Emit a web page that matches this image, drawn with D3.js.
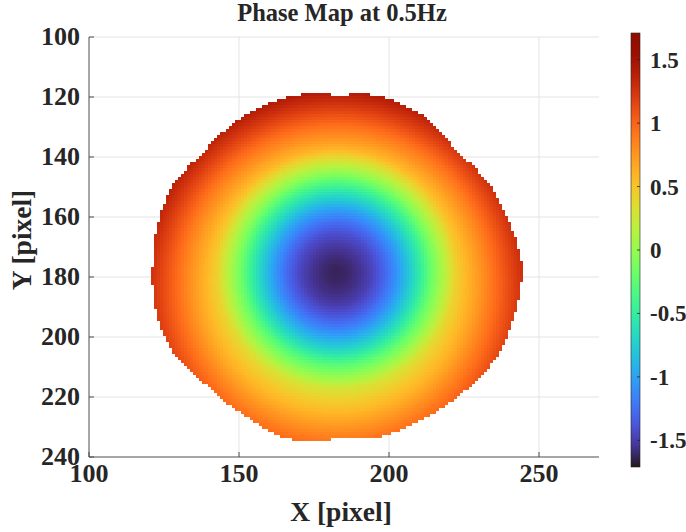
<!DOCTYPE html>
<html>
<head>
<meta charset="utf-8">
<script src="https://cdn.jsdelivr.net/npm/d3@7"></script>
<style>
  body { margin: 0; background: #fff; }
  svg text { font-family: "Liberation Serif", "Times New Roman", serif; font-weight: bold; fill: #262626; }
</style>
</head>
<body>
<div id="chart"></div>
<script>
// ticks
const xTicks = [100, 150, 200, 250];
const yTicks = [100, 120, 140, 160, 180, 200, 220, 240];
const cbTicks = [-1.5, -1, -0.5, 0, 0.5, 1, 1.5];
const phaseRange = [-1.71, 1.71];

// outline of the illuminated spot (angle in deg, counter-clockwise, radius in pixels)
const ringCenter = [182.8, 176.5];
const edgeAngles = [0, 16, 28, 44, 59, 76, 90, 104, 123, 140, 154, 170, 180, 196, 208, 222, 240, 252, 270, 282, 299, 318, 332, 344, 360];
const edgeRadii = [61.5, 58.8, 57.6, 55.2, 57.8, 58.9, 57.2, 59.1, 59.2, 58.9, 61.5, 61.8, 61.8, 62.6, 61.8, 58.8, 58.3, 60.0, 57.2, 58.4, 58.0, 59.3, 61.2, 61.0, 61.5];

// phase read along a radius from the darkest point
const phaseCenter = [182.3, 177.2];
const profileRadius = [0, 4, 8, 12, 16, 20, 24, 28, 32, 36, 40, 44, 48, 52, 56, 60, 64];
const profilePhase = [-1.64, -1.61, -1.55, -1.46, -1.3, -1.08, -0.8, -0.5, -0.15, 0.15, 0.45, 0.62, 0.77, 0.93, 1.08, 1.22, 1.34];
// top of the spot reads higher than the bottom (phase per pixel, upwards)
const phaseTilt = 0.0038;

const W = 686, H = 532;
const mLeft = 89, mRight = 599, mTop = 37, mBottom = 457;

const svg = d3.select("#chart").append("svg")
    .attr("width", W)
    .attr("height", H);

const x = d3.scaleLinear().domain([100, 270]).range([mLeft, mRight]);
const y = d3.scaleLinear().domain([100, 240]).range([mTop, mBottom]);
const color = d3.scaleSequential(d3.interpolateTurbo).domain(phaseRange).clamp(true);
const edge = d3.scaleLinear().domain(edgeAngles).range(edgeRadii);
const phase = d3.scaleLinear().domain(profileRadius).range(profilePhase).clamp(true);

// grid
const grid = svg.append("g").attr("stroke", "#e3e3e3").attr("stroke-width", 1);
grid.selectAll("line.gx").data(xTicks.filter(d => d > 100)).enter().append("line")
    .attr("x1", d => x(d)).attr("x2", d => x(d))
    .attr("y1", mTop).attr("y2", mBottom);
grid.selectAll("line.gy").data(yTicks.filter(d => d < 240)).enter().append("line")
    .attr("x1", mLeft).attr("x2", mRight)
    .attr("y1", d => y(d)).attr("y2", d => y(d));

// cells inside the spot
let cells = [];
for (let cx = 100; cx <= 270; cx++) {
    for (let cy = 100; cy <= 240; cy++) {
        let dx = cx - ringCenter[0], dy = ringCenter[1] - cy;
        let ang = Math.atan2(dy, dx) * 180 / Math.PI;
        if (ang < 0) ang += 360;
        if (Math.hypot(dx, dy) > edge(ang)) continue;
        let r = Math.hypot(cx - phaseCenter[0], cy - phaseCenter[1]);
        cells.push({ x: cx, y: cy, v: phase(r) + phaseTilt * (phaseCenter[1] - cy) });
    }
}

svg.append("g").attr("shape-rendering", "crispEdges")
    .selectAll("rect").data(cells).enter().append("rect")
    .attr("x", d => x(d.x - 0.5))
    .attr("y", d => y(d.y - 0.5))
    .attr("width", x(101) - x(100) + 0.5)
    .attr("height", y(101) - y(100) + 0.5)
    .attr("fill", d => color(d.v));

// axes
const axes = svg.append("g").attr("stroke", "#4d4d4d").attr("stroke-width", 1).attr("fill", "none");
axes.append("line").attr("x1", mLeft).attr("x2", mLeft).attr("y1", mTop).attr("y2", mBottom);
axes.append("line").attr("x1", mLeft).attr("x2", mRight).attr("y1", mBottom).attr("y2", mBottom);
axes.selectAll("line.tx").data(xTicks).enter().append("line")
    .attr("x1", d => x(d)).attr("x2", d => x(d))
    .attr("y1", mBottom).attr("y2", mBottom - 5);
axes.selectAll("line.ty").data(yTicks).enter().append("line")
    .attr("x1", mLeft).attr("x2", mLeft + 5)
    .attr("y1", d => y(d)).attr("y2", d => y(d));

svg.selectAll("text.xt").data(xTicks).enter().append("text")
    .attr("x", d => x(d)).attr("y", mBottom + 25)
    .attr("text-anchor", "middle")
    .attr("font-size", 26)
    .text(d => d);
svg.selectAll("text.yt").data(yTicks).enter().append("text")
    .attr("x", mLeft - 9).attr("y", d => y(d) + 8)
    .attr("text-anchor", "end")
    .attr("font-size", 26)
    .text(d => d);

svg.append("text")
    .attr("x", (mLeft + mRight) / 2 - 3).attr("y", 521)
    .attr("text-anchor", "middle")
    .attr("font-size", 27.5)
    .text("X [pixel]");
svg.append("text")
    .attr("transform", `translate(31,${(mTop + mBottom) / 2 - 7}) rotate(-90)`)
    .attr("text-anchor", "middle")
    .attr("font-size", 27.5)
    .text("Y [pixel]");
svg.append("text")
    .attr("x", (mLeft + mRight) / 2 - 2).attr("y", 21)
    .attr("text-anchor", "middle")
    .attr("font-size", 24.5)
    .text("Phase Map at 0.5Hz");

// colorbar
const cbX = 631, cbW = 9;
const cb = d3.scaleLinear().domain(phaseRange).range([467, 33]);
const defs = svg.append("defs");
const grad = defs.append("linearGradient").attr("id", "cbGrad")
    .attr("x1", 0).attr("y1", 1).attr("x2", 0).attr("y2", 0);
grad.selectAll("stop").data(d3.range(0, 1.0001, 0.05)).enter().append("stop")
    .attr("offset", d => d)
    .attr("stop-color", d => d3.interpolateTurbo(d));
svg.append("rect")
    .attr("x", cbX).attr("y", cb(phaseRange[1]))
    .attr("width", cbW).attr("height", cb(phaseRange[0]) - cb(phaseRange[1]))
    .attr("fill", "url(#cbGrad)")
    .attr("stroke", "#262626").attr("stroke-width", 0.6);
svg.append("g").attr("stroke", "#262626").attr("stroke-width", 0.8)
    .selectAll("line").data(cbTicks).enter().append("line")
    .attr("x1", cbX + cbW - 3).attr("x2", cbX + cbW)
    .attr("y1", d => cb(d)).attr("y2", d => cb(d));
svg.selectAll("text.cbt").data(cbTicks).enter().append("text")
    .attr("x", cbX + cbW + 10).attr("y", d => cb(d) + 8)
    .attr("font-size", 23)
    .text(d => d);
</script>
</body>
</html>
